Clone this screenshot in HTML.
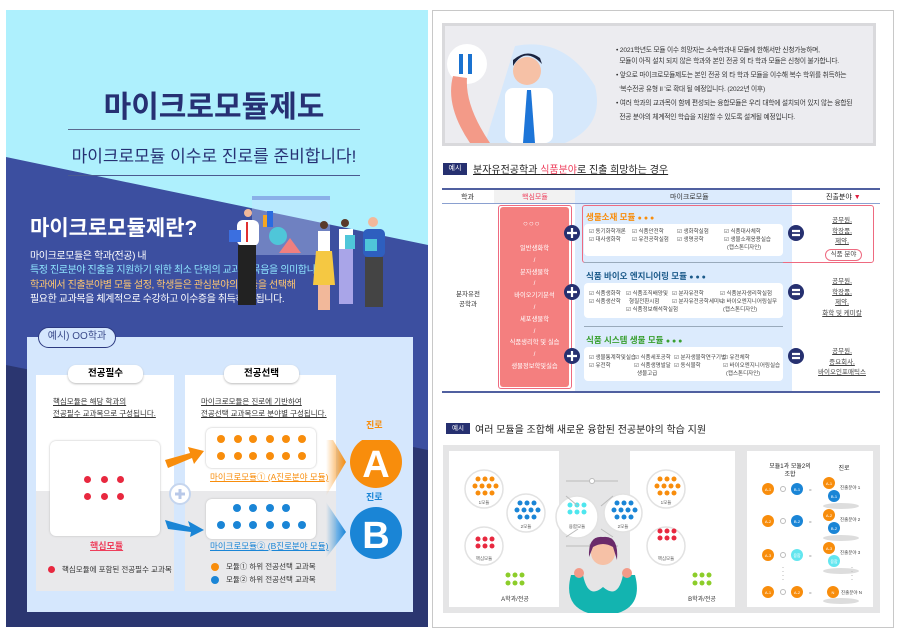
<!DOCTYPE html>
<html><head><meta charset="utf-8"><style>
*{margin:0;padding:0;box-sizing:border-box}
body{width:900px;height:636px;background:#fff;position:relative;overflow:hidden;font-family:"Liberation Sans","Noto Sans CJK KR",sans-serif}
.a{position:absolute}
.t{position:absolute;white-space:nowrap}
.c{position:absolute;border-radius:50%}
.dot{position:absolute;border-radius:50%;width:7px;height:7px}
</style></head><body>
<!-- LEFT PANEL -->
<div class="a" style="left:6px;top:10px;width:422px;height:300px;background:#aef0fd"></div>
<svg class="a" style="left:6px;top:10px" width="422" height="617">
<polygon points="0,147 422,235 422,617 0,617" fill="#3c4fa0"/>
<polygon points="0,355 422,440 422,617 0,617" fill="#2b3670"/>
<rect x="0" y="608" width="422" height="9" fill="#2b3670"/>
</svg>
<div class="t" style="left:0;width:428px;text-align:center;top:82px;font-size:30px;font-weight:bold;color:#263073">마이크로모듈제도</div>
<div class="a" style="left:68px;top:129px;width:292px;height:1px;background:#5a6a90"></div>
<div class="t" style="left:0;width:428px;text-align:center;top:142px;font-size:17px;color:#263073">마이크로모듈 이수로 진로를 준비합니다!</div>
<div class="a" style="left:68px;top:175px;width:292px;height:1px;background:#4a5a90"></div>
<div class="t" style="left:30px;top:212px;font-size:21px;font-weight:bold;color:#fff">마이크로모듈제란?</div>
<div class="t" style="left:30px;top:250px;font-size:10px;line-height:14.3px;color:#fff;letter-spacing:-0.4px">마이크로모듈은 학과(전공) 내<br><span style="color:#8fe6ff">특정 진로분야 진출을 지원하기 위한 최소 단위의 교과목 묶음을 의미합니다.</span><br><span style="color:#ffc770">학과에서 진출분야별 모듈 설정, 학생들은 관심분야의 모듈을 선택해</span><br>필요한 교과목을 체계적으로 수강하고 이수증을 취득하게 됩니다.</div>
<!-- illustration -->
<svg class="a" style="left:215px;top:195px" width="190" height="125">
<rect x="37" y="1" width="78" height="4" fill="#8ab0e8"/>
<rect x="37" y="5" width="78" height="55" fill="#cfe0ff" opacity=".35"/>
<rect x="48" y="20" width="8" height="12" fill="#f5a623"/><rect x="52" y="16" width="6" height="16" fill="#2b6be0"/>
<circle cx="63" cy="41" r="9" fill="#4fc6d9"/><polygon points="64,58 75,43 86,58" fill="#f07f7f"/>
<circle cx="33" cy="18" r="4" fill="#f2b89a"/>
<rect x="22" y="25" width="22" height="26" rx="6" fill="#fff"/><rect x="31" y="27" width="2" height="20" fill="#e03030"/>
<rect x="23" y="50" width="18" height="60" fill="#222"/><rect x="14" y="35" width="12" height="12" fill="#3b6fe0"/>
<circle cx="109" cy="30" r="4" fill="#5a3a2a"/><rect x="103" y="36" width="12" height="20" fill="#fff"/><polygon points="101,56 117,56 120,90 98,90" fill="#f5c842"/><rect x="103" y="90" width="12" height="25" fill="#f2b89a"/>
<circle cx="130" cy="28" r="4" fill="#5a3a2a"/><rect x="124" y="34" width="14" height="20" fill="#fff"/><rect x="124" y="54" width="14" height="55" fill="#a9a5e8"/><rect x="130" y="40" width="10" height="14" fill="#4fc6d9"/>
<circle cx="158" cy="27" r="5" fill="#f2b89a"/><rect x="148" y="34" width="22" height="28" rx="5" fill="#2e5fbf"/><rect x="150" y="62" width="18" height="50" fill="#444"/><rect x="150" y="44" width="12" height="12" fill="#4fc6d9"/>
</svg>
<!-- example box -->
<div class="a" style="left:27px;top:337px;width:386px;height:275px;background:#d5e7fd"></div>
<div class="t" style="left:38px;top:327px;width:78px;height:21px;border:1.5px solid #2d3a80;border-radius:11px;background:#d5e7fd;font-size:10px;line-height:18px;text-align:center;color:#3a4a8a">예시) OO학과</div>
<div class="a" style="left:36px;top:375px;width:138px;height:116px;background:#fff"></div>
<div class="a" style="left:36px;top:491px;width:138px;height:100px;background:#e9e9eb"></div>
<div class="a" style="left:185px;top:375px;width:151px;height:116px;background:#fff"></div>
<div class="a" style="left:185px;top:491px;width:151px;height:100px;background:#e9e9eb"></div>
<div class="t" style="left:68px;top:365px;width:75px;height:18px;background:#fff;border-radius:8px;box-shadow:0 1px 2px #bbb;font-size:9.5px;font-weight:bold;text-align:center;line-height:18px">전공필수</div>
<div class="t" style="left:224px;top:365px;width:75px;height:18px;background:#fff;border-radius:8px;box-shadow:0 1px 2px #bbb;font-size:9.5px;font-weight:bold;text-align:center;line-height:18px">전공선택</div>
<div class="t" style="left:53px;top:396px;font-size:7.5px;line-height:12px;color:#333;text-decoration:underline">핵심모듈은 해당 학과의<br>전공필수 교과목으로 구성됩니다.</div>
<div class="t" style="left:201px;top:396px;font-size:7.5px;line-height:12px;color:#333;text-decoration:underline">마이크로모듈은 진로에 기반하여<br>전공선택 교과목으로 분야별 구성됩니다.</div>
<div class="a" style="left:50px;top:441px;width:110px;height:95px;background:#fff;border-radius:6px;box-shadow:0 0 2px #bbb"></div>
<div class="dot" style="background:#e8283f;left:84px;top:476px"></div><div class="dot" style="background:#e8283f;left:101px;top:476px"></div><div class="dot" style="background:#e8283f;left:117px;top:476px"></div>
<div class="dot" style="background:#e8283f;left:84px;top:493px"></div><div class="dot" style="background:#e8283f;left:101px;top:493px"></div><div class="dot" style="background:#e8283f;left:117px;top:493px"></div>
<div class="t" style="left:90px;top:539px;font-size:9px;font-weight:bold;color:#ee3e5b;text-decoration:underline">핵심모듈</div>
<div class="dot" style="background:#e8283f;left:48px;top:566px"></div>
<div class="t" style="left:62px;top:564px;font-size:7.5px;color:#333">핵심모듈에 포함된 전공필수 교과목</div>
<div class="a" style="left:206px;top:428px;width:110px;height:40px;background:#fff;border-radius:6px;box-shadow:0 0 2px #bbb"></div>
<div class="a" style="left:206px;top:499px;width:110px;height:40px;background:#fff;border-radius:6px;box-shadow:0 0 2px #bbb"></div>
<svg class="a" style="left:206px;top:428px" width="110" height="112">
<g fill="#f88d0c"><circle cx="15" cy="11" r="4"/><circle cx="32" cy="11" r="4"/><circle cx="47" cy="11" r="4"/><circle cx="64" cy="11" r="4"/><circle cx="80" cy="11" r="4"/><circle cx="96" cy="11" r="4"/>
<circle cx="15" cy="28" r="4"/><circle cx="32" cy="28" r="4"/><circle cx="47" cy="28" r="4"/><circle cx="64" cy="28" r="4"/><circle cx="80" cy="28" r="4"/><circle cx="96" cy="28" r="4"/></g>
<g fill="#1a85d6"><circle cx="31" cy="80" r="4"/><circle cx="47" cy="80" r="4"/><circle cx="64" cy="80" r="4"/><circle cx="80" cy="80" r="4"/>
<circle cx="15" cy="97" r="4"/><circle cx="31" cy="97" r="4"/><circle cx="47" cy="97" r="4"/><circle cx="64" cy="97" r="4"/><circle cx="80" cy="97" r="4"/><circle cx="96" cy="97" r="4"/></g>
</svg>
<div class="t" style="left:210px;top:471px;font-size:8.5px;color:#f88d0c;text-decoration:underline">마이크로모듈① (A진로분야 모듈)</div>
<div class="t" style="left:210px;top:540px;font-size:8.5px;color:#1a85d6;text-decoration:underline">마이크로모듈② (B진로분야 모듈)</div>
<div class="dot" style="background:#f88d0c;left:211px;top:563px;width:8px;height:8px"></div>
<div class="dot" style="background:#1a85d6;left:211px;top:576px;width:8px;height:8px"></div>
<div class="t" style="left:226px;top:561px;font-size:7.5px;color:#333">모듈① 하위 전공선택 교과목</div>
<div class="t" style="left:226px;top:574px;font-size:7.5px;color:#333">모듈② 하위 전공선택 교과목</div>
<svg class="a" style="left:160px;top:440px" width="250" height="120">
<polygon points="5,20 30,13 28,7 44,11 34,24 32,18 8,28" fill="#f88d0c"/>
<polygon points="5,80 30,87 28,81 44,90 30,97 31,92 8,89" fill="#1a85d6"/>
<circle cx="20" cy="54" r="10" fill="#fff" stroke="#c5d5ee" stroke-width="2"/>
<path d="M15 54h10M20 49v10" stroke="#b8c8e8" stroke-width="3"/>
<defs><linearGradient id="go" x1="0" x2="1"><stop offset="0" stop-color="#f88d0c" stop-opacity="0"/><stop offset="1" stop-color="#f88d0c"/></linearGradient>
<linearGradient id="gb" x1="0" x2="1"><stop offset="0" stop-color="#1a85d6" stop-opacity="0"/><stop offset="1" stop-color="#1a85d6"/></linearGradient></defs>
<polygon points="166,-12 186,22 166,56 166,-12" fill="url(#go)"/>
<polygon points="166,62 186,92 166,118" fill="url(#gb)"/>
<circle cx="216" cy="22" r="26" fill="#f88d0c"/>
<circle cx="216" cy="93" r="26" fill="#1a85d6"/>
<text x="216" y="37" font-size="38" font-weight="bold" fill="#fff" text-anchor="middle" font-family="Liberation Sans">A</text>
<text x="216" y="108" font-size="38" font-weight="bold" fill="#fff" text-anchor="middle" font-family="Liberation Sans">B</text>
</svg>
<div class="t" style="left:366px;top:418px;font-size:9px;font-weight:bold;color:#f88d0c">진로</div>
<div class="t" style="left:366px;top:490px;font-size:9px;font-weight:bold;color:#1a85d6">진로</div>

<!-- RIGHT PANEL -->
<div class="a" style="left:432px;top:10px;width:462px;height:618px;border:1px solid #c8c8c8"></div>
<div class="a" style="left:442px;top:23px;width:434px;height:123px;background:#ececf0;border:3px solid #d9d9dc"></div>
<svg class="a" style="left:445px;top:26px" width="160" height="117">
<path d="M70 20 Q120 10 150 60 Q160 100 120 117 L40 117 Z" fill="#d6e8fb"/>
<circle cx="22" cy="38" r="20" fill="#fff"/><rect x="14" y="28" width="4" height="20" fill="#1a72d0"/><rect x="23" y="28" width="4" height="20" fill="#1a72d0"/>
<path d="M8 50 Q0 80 25 117 L45 117 Q20 80 22 52Z" fill="#f39a88"/>
<circle cx="82" cy="45" r="14" fill="#f6c1a6"/><path d="M68 40 Q80 20 97 38 L95 32 Q82 22 68 34Z" fill="#1b2440"/>
<rect x="60" y="62" width="48" height="55" rx="8" fill="#fff"/><polygon points="82,64 86,64 90,117 78,117" fill="#1d75d8"/>
</svg>
<div class="t" style="left:616px;top:45px;font-size:6.7px;line-height:11px;color:#333;letter-spacing:-0.2px">• 2021학년도 모듈 이수 희망자는 소속학과내 모듈에 한해서만 신청가능하며,<br>&nbsp;&nbsp;모듈이 아직 설치 되지 않은 학과와 본인 전공 외 타 학과 모듈은 신청이 불가합니다.<br><span style="line-height:17px">• 앞으로 마이크로모듈제도는 본인 전공 외 타 학과 모듈을 이수해 복수 학위를 취득하는</span><br>&nbsp;&nbsp;'복수전공 유형 II '로 확대 될 예정입니다. (2022년 이후)<br><span style="line-height:17px">• 여러 학과의 교과목이 함께 편성되는 융합모듈은 우리 대학에 설치되어 있지 않는 융합된</span><br>&nbsp;&nbsp;전공 분야의 체계적인 학습을 지원할 수 있도록 설계될 예정입니다.</div>
<div class="t" style="left:443px;top:163px;width:24px;height:12px;background:#263070;color:#fff;font-size:7px;text-align:center;line-height:12px">예시</div>
<div class="t" style="left:473px;top:161px;font-size:10px;color:#222;text-decoration:underline">분자유전공학과 <span style="color:#ee3e5b">식품분야</span>로 진출 희망하는 경우</div>
<!-- table -->
<div class="a" style="left:575px;top:189px;width:217px;height:203px;background:#dcebfd"></div>
<div class="a" style="left:494px;top:189px;width:81px;height:14px;background:#f2f2f2"></div>
<div class="a" style="left:442px;top:188px;width:438px;height:2px;background:#5060a0"></div>
<div class="a" style="left:442px;top:203px;width:438px;height:1px;background:#8aa0d0"></div>
<div class="a" style="left:442px;top:391px;width:438px;height:2px;background:#5060a0"></div>
<div class="t" style="left:461px;top:192px;font-size:7px;color:#333">학과</div>
<div class="t" style="left:522px;top:192px;font-size:7px;color:#ee3e5b">핵심모듈</div>
<div class="t" style="left:670px;top:192px;font-size:7px;color:#333">마이크로모듈</div>
<div class="t" style="left:826px;top:192px;font-size:7px;color:#222">진출분야 <span style="color:#e02040">▼</span></div>
<div class="t" style="left:456px;top:290px;font-size:6.5px;line-height:10px;color:#333;text-align:center">분자유전<br>공학과</div>
<div class="a" style="left:500px;top:207px;width:69px;height:180px;background:#f47f7f;border-radius:3px"></div>
<div class="a" style="left:498px;top:205px;width:74px;height:184px;border:1.5px solid #ee6a80;border-radius:3px"></div>
<div class="a" style="left:582px;top:205px;width:292px;height:58px;border:1.5px solid #ee6a80;border-radius:3px"></div>
<div class="t" style="left:523px;top:219px;font-size:8px;color:#fff;letter-spacing:1px">○○○</div>
<div class="t" style="left:500px;width:69px;text-align:center;top:243px;font-size:6.3px;line-height:11.8px;color:#fff">일반생화학<br>/<br>분자생물학<br>/<br>바이오기기분석<br>/<br>세포생물학<br>/<br>식품생리학 및 실습<br>/<br>생물정보학및실습</div>
<svg class="a" style="left:560px;top:220px" width="250" height="150">
<g fill="#263070"><circle cx="12" cy="13" r="8"/><circle cx="12" cy="72" r="8"/><circle cx="12" cy="136" r="8"/>
<circle cx="236" cy="13" r="8"/><circle cx="236" cy="72" r="8"/><circle cx="236" cy="136" r="8"/></g>
<g stroke="#fff" stroke-width="2.2"><path d="M7 13h10M12 8v10M7 72h10M12 67v10M7 136h10M12 131v10"/>
<path d="M232 11h8M232 15h8M232 70h8M232 74h8M232 134h8M232 138h8"/></g>
</svg>
<div class="t" style="left:586px;top:211px;font-size:8.5px;font-weight:bold;color:#f88d0c">생물소재 모듈 <span style="font-size:7px">● ● ●</span></div>
<div class="a" style="left:584px;top:224px;width:199px;height:32px;background:#fff;border-radius:4px"></div>
<div class="t" style="left:589px;top:228px;font-size:5.5px;line-height:8px;color:#444">☑ 동기화학개론<br>☑ 대사생화학</div>
<div class="t" style="left:632px;top:228px;font-size:5.5px;line-height:8px;color:#444">☑ 식품안전학<br>☑ 유전공학실험</div>
<div class="t" style="left:677px;top:228px;font-size:5.5px;line-height:8px;color:#444">☑ 생화학실험<br>☑ 생명공학</div>
<div class="t" style="left:724px;top:228px;font-size:5.5px;line-height:8px;color:#444">☑ 식품대사체학<br>☑ 생물소재응용실습<br>&nbsp;&nbsp;(캡스톤디자인)</div>
<div class="a" style="left:584px;top:262px;width:199px;height:1px;background:#9ab"></div>
<div class="t" style="left:586px;top:270px;font-size:8.5px;font-weight:bold;color:#1b5a8a">식품 바이오 엔지니어링 모듈 <span style="font-size:7px">● ● ●</span></div>
<div class="a" style="left:584px;top:283px;width:199px;height:35px;background:#fff;border-radius:4px"></div>
<div class="t" style="left:589px;top:290px;font-size:5.5px;line-height:8px;color:#444">☑ 식품생화학<br>☑ 식품생산학</div>
<div class="t" style="left:626px;top:290px;font-size:5.5px;line-height:8px;color:#444">☑ 식품조직배양및<br>&nbsp;&nbsp;형질전환시험<br>☑ 식품정보해석학실험</div>
<div class="t" style="left:672px;top:290px;font-size:5.5px;line-height:8px;color:#444">☑ 분자유전학<br>☑ 분자유전공학세미나</div>
<div class="t" style="left:720px;top:290px;font-size:5.5px;line-height:8px;color:#444">☑ 식품분자생리학실험<br>☑ 바이오엔지니어링실무<br>&nbsp;&nbsp;(캡스톤디자인)</div>
<div class="a" style="left:584px;top:326px;width:199px;height:1px;background:#9ab"></div>
<div class="t" style="left:586px;top:334px;font-size:8.5px;font-weight:bold;color:#3aa030">식품 시스템 생물 모듈 <span style="font-size:7px">● ● ●</span></div>
<div class="a" style="left:584px;top:347px;width:199px;height:34px;background:#fff;border-radius:4px"></div>
<div class="t" style="left:589px;top:354px;font-size:5.5px;line-height:8px;color:#444">☑ 생물통계학및실습<br>☑ 유전학</div>
<div class="t" style="left:634px;top:354px;font-size:5.5px;line-height:8px;color:#444">☑ 식품세포공학<br>☑ 식품생명발달<br>&nbsp;&nbsp;생물고급</div>
<div class="t" style="left:674px;top:354px;font-size:5.5px;line-height:8px;color:#444">☑ 분자생물학연구기법<br>☑ 동식물학</div>
<div class="t" style="left:723px;top:354px;font-size:5.5px;line-height:8px;color:#444">☑ 유전체학<br>☑ 바이오엔지니어링실습<br>&nbsp;&nbsp;(캡스톤디자인)</div>
<div class="t" style="left:800px;width:84px;text-align:center;top:216px;font-size:6.5px;line-height:10.5px;color:#444;text-decoration:underline">공무원,<br>학장품,<br>제약,</div>
<div class="t" style="left:825px;top:249px;width:37px;height:12px;border:1.2px solid #ee6a80;border-radius:6px;font-size:6.5px;line-height:10px;text-align:center;color:#444">식품 분야</div>
<div class="t" style="left:800px;width:84px;text-align:center;top:277px;font-size:6.5px;line-height:10.5px;color:#444;text-decoration:underline">공무원,<br>학장품,<br>제약,<br>화학 및 케미칼</div>
<div class="t" style="left:800px;width:84px;text-align:center;top:347px;font-size:6.5px;line-height:10.5px;color:#444;text-decoration:underline">공무원,<br>증요회사,<br>바이오인포매틱스</div>
<!-- bottom -->
<div class="t" style="left:446px;top:423px;width:24px;height:11px;background:#263070;color:#fff;font-size:6.5px;text-align:center;line-height:11px">예시</div>
<div class="t" style="left:475px;top:421px;font-size:10px;color:#222">여러 모듈을 조합해 새로운 융합된 전공분야의 학습 지원</div>
<div class="a" style="left:443px;top:445px;width:437px;height:168px;background:#e5e5e6"></div>
<div class="a" style="left:449px;top:451px;width:110px;height:156px;background:#fff"></div>
<div class="a" style="left:630px;top:451px;width:105px;height:156px;background:#fff"></div>
<div class="a" style="left:747px;top:451px;width:126px;height:156px;background:#fff"></div>
<svg class="a" style="left:443px;top:445px" width="437" height="168" font-family="Liberation Sans,Noto Sans CJK KR,sans-serif">
<g fill="#fff" stroke="#e2e2e2" stroke-width="1.5">
<circle cx="41" cy="44" r="19"/><circle cx="83" cy="68" r="19"/><circle cx="41" cy="101" r="19"/>
<circle cx="223" cy="44" r="19"/><circle cx="180" cy="68" r="19"/><circle cx="223" cy="101" r="19"/>
<circle cx="134" cy="72" r="21"/></g>
<g fill="#f88d0c"><circle cx="35" cy="34" r="2.5"/><circle cx="42" cy="34" r="2.5"/><circle cx="49" cy="34" r="2.5"/><circle cx="32" cy="41" r="2.5"/><circle cx="39" cy="41" r="2.5"/><circle cx="46" cy="41" r="2.5"/><circle cx="53" cy="41" r="2.5"/><circle cx="35" cy="48" r="2.5"/><circle cx="42" cy="48" r="2.5"/><circle cx="49" cy="48" r="2.5"/>
<circle cx="217" cy="34" r="2.5"/><circle cx="224" cy="34" r="2.5"/><circle cx="231" cy="34" r="2.5"/><circle cx="214" cy="41" r="2.5"/><circle cx="221" cy="41" r="2.5"/><circle cx="228" cy="41" r="2.5"/><circle cx="235" cy="41" r="2.5"/><circle cx="217" cy="48" r="2.5"/><circle cx="224" cy="48" r="2.5"/><circle cx="231" cy="48" r="2.5"/></g>
<g fill="#1a85d6"><circle cx="77" cy="58" r="2.5"/><circle cx="84" cy="58" r="2.5"/><circle cx="91" cy="58" r="2.5"/><circle cx="74" cy="65" r="2.5"/><circle cx="81" cy="65" r="2.5"/><circle cx="88" cy="65" r="2.5"/><circle cx="95" cy="65" r="2.5"/><circle cx="77" cy="72" r="2.5"/><circle cx="84" cy="72" r="2.5"/><circle cx="91" cy="72" r="2.5"/>
<circle cx="174" cy="58" r="2.5"/><circle cx="181" cy="58" r="2.5"/><circle cx="188" cy="58" r="2.5"/><circle cx="171" cy="65" r="2.5"/><circle cx="178" cy="65" r="2.5"/><circle cx="185" cy="65" r="2.5"/><circle cx="192" cy="65" r="2.5"/><circle cx="174" cy="72" r="2.5"/><circle cx="181" cy="72" r="2.5"/><circle cx="188" cy="72" r="2.5"/></g>
<g fill="#e8283f"><circle cx="35" cy="94" r="2.5"/><circle cx="42" cy="94" r="2.5"/><circle cx="49" cy="94" r="2.5"/><circle cx="35" cy="101" r="2.5"/><circle cx="42" cy="101" r="2.5"/><circle cx="49" cy="101" r="2.5"/>
<circle cx="217" cy="86" r="2.5"/><circle cx="224" cy="86" r="2.5"/><circle cx="231" cy="86" r="2.5"/><circle cx="217" cy="93" r="2.5"/><circle cx="224" cy="93" r="2.5"/><circle cx="231" cy="93" r="2.5"/></g>
<g fill="#4ee6ee"><circle cx="127" cy="60" r="2.5"/><circle cx="134" cy="60" r="2.5"/><circle cx="141" cy="60" r="2.5"/><circle cx="127" cy="67" r="2.5"/><circle cx="134" cy="67" r="2.5"/><circle cx="141" cy="67" r="2.5"/></g>
<g fill="#8ccd2a"><circle cx="65" cy="130" r="2.5"/><circle cx="72" cy="130" r="2.5"/><circle cx="79" cy="130" r="2.5"/><circle cx="65" cy="138" r="2.5"/><circle cx="72" cy="138" r="2.5"/><circle cx="79" cy="138" r="2.5"/>
<circle cx="252" cy="130" r="2.5"/><circle cx="259" cy="130" r="2.5"/><circle cx="266" cy="130" r="2.5"/><circle cx="252" cy="138" r="2.5"/><circle cx="259" cy="138" r="2.5"/><circle cx="266" cy="138" r="2.5"/></g>
<g stroke="#bbb" stroke-width="1" fill="#fff"><path d="M123 36h52M123 101h52M123 51l12 10M170 51l-12 10M123 92l12-8M170 92l-12-8"/>
<circle cx="149" cy="36" r="2.5"/><circle cx="149" cy="101" r="2.5"/></g>
<g font-size="4.5" fill="#555" text-anchor="middle"><text x="41" y="59">1모듈</text><text x="83" y="83">2모듈</text><text x="41" y="115">핵심모듈</text><text x="223" y="59">1모듈</text><text x="180" y="83">2모듈</text><text x="223" y="115">핵심모듈</text><text x="134" y="83">융합모듈</text></g>
<g font-size="6" fill="#333" text-anchor="middle"><text x="72" y="156">A학과/전공</text><text x="259" y="156">B학과/전공</text></g>
<path d="M145 168 Q120 160 128 130 L140 130 Q145 155 160 142 Q175 155 180 130 L192 130 Q200 160 175 168Z" fill="#13b4b0"/>
<circle cx="160" cy="108" r="12" fill="#f6c1a6"/><path d="M146 112 Q145 90 160 92 Q176 90 174 115 L170 102 Q160 96 150 102Z" fill="#6a2a6a"/>
<circle cx="136" cy="128" r="5" fill="#f39a88"/><circle cx="184" cy="128" r="5" fill="#f39a88"/>
<g font-size="6" fill="#222" text-anchor="middle"><text x="347" y="23">모듈1과 모듈2의</text><text x="347" y="31">조합</text><text x="401" y="25">진로</text></g>
<g fill="#f88d0c"><circle cx="325" cy="44" r="6"/><circle cx="325" cy="76" r="6"/><circle cx="325" cy="110" r="6"/><circle cx="325" cy="147" r="6"/><circle cx="354" cy="147" r="6"/>
<circle cx="386" cy="38" r="6"/><circle cx="386" cy="70" r="6"/><circle cx="386" cy="103" r="6"/><circle cx="390" cy="147" r="6"/></g>
<g fill="#1a85d6"><circle cx="354" cy="44" r="6"/><circle cx="354" cy="76" r="6"/><circle cx="391" cy="51" r="6"/><circle cx="391" cy="83" r="6"/></g>
<g fill="#63e6ef"><circle cx="354" cy="110" r="6"/><circle cx="391" cy="116" r="6"/></g>
<g fill="none" stroke="#bbb"><circle cx="340" cy="44" r="2.5"/><circle cx="340" cy="76" r="2.5"/><circle cx="340" cy="110" r="2.5"/><circle cx="340" cy="147" r="2.5"/></g>
<g fill="#ddd"><ellipse cx="398" cy="61" rx="18" ry="3"/><ellipse cx="398" cy="93" rx="18" ry="3"/><ellipse cx="398" cy="126" rx="18" ry="3"/><ellipse cx="398" cy="156" rx="18" ry="3"/></g>
<g font-size="4" fill="#fff" text-anchor="middle"><text x="325" y="46">A-1</text><text x="354" y="46">B-1</text><text x="325" y="78">A-2</text><text x="354" y="78">B-2</text><text x="325" y="112">A-3</text><text x="354" y="112">융합</text><text x="325" y="149">A-1</text><text x="354" y="149">A-2</text><text x="386" y="40">A-1</text><text x="391" y="53">B-1</text><text x="386" y="72">A-2</text><text x="391" y="85">B-2</text><text x="386" y="105">A-3</text><text x="391" y="118">융합</text><text x="390" y="149">N</text></g>
<g font-size="4.5" fill="#444"><text x="366" y="46">=</text><text x="366" y="78">=</text><text x="366" y="112">=</text><text x="366" y="149">=</text><text x="397" y="44">진출분야 1</text><text x="397" y="76">진출분야 2</text><text x="397" y="109">진출분야 3</text><text x="398" y="149">진출분야 N</text></g>
<g stroke="#bbb" stroke-dasharray="1,3"><path d="M340 122v16M409 122v16"/></g>
</svg>
</body></html>
